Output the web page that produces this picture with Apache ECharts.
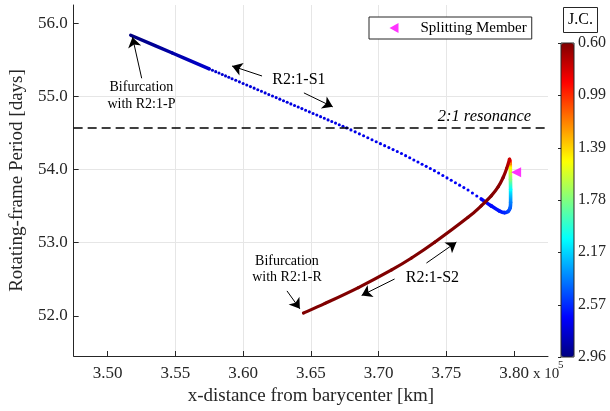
<!DOCTYPE html>
<html><head><meta charset="utf-8">
<script src="https://cdn.jsdelivr.net/npm/echarts@6/dist/echarts.min.js"></script>
<style>html,body{margin:0;padding:0;background:#fff}#c{width:610px;height:411px}</style>
</head><body><div id="c"></div>
<script>
const FONT = "'Liberation Serif','Times New Roman',serif";
// rows: [x-distance (x1e5 km), rotating-frame period (days), Jacobi constant]
const s1Start = [[3.5171,55.837,2.96],[3.5478,55.593,2.87],[3.5750,55.377,2.78]];
const s1Dots = [[3.5750,55.377,2.78],[3.5919,55.242,2.76],[3.6434,54.833,2.73],[3.6765,54.569,2.72],[3.7169,54.219,2.70],[3.7412,53.985,2.69],[3.7660,53.720,2.68],[3.7757,53.597,2.67]];
const hookPts = [[3.7757,53.597,2.67],[3.7831,53.503,2.65],[3.7890,53.435,2.62],[3.7929,53.411,2.58],[3.7956,53.429,2.52],[3.7971,53.476,2.45],[3.7974,53.551,2.37],[3.7974,53.728,2.075],[3.7973,53.864,1.78],[3.7972,54.027,1.485],[3.7971,54.082,1.19],[3.7968,54.122,0.90],[3.7966,54.140,0.78]];
const s2Pts = [[3.7966,54.140,0.78],[3.7945,54.014,0.68],[3.7919,53.891,0.63],[3.7882,53.762,0.62],[3.7831,53.639,0.61],[3.7757,53.503,0.61],[3.7660,53.346,0.61],[3.7414,53.005,0.60],[3.7243,52.790,0.60],[3.7096,52.627,0.60],[3.6851,52.386,0.60],[3.6605,52.169,0.60],[3.6446,52.037,0.60]];
const splitMember = [[3.8015,53.963]];
const jcTicks = [0.60,0.99,1.39,1.78,2.17,2.57,2.96];
const jcRange = [0.60, 2.96];
const xRange = [3.475, 3.825];
const yRange = [51.45, 56.25];
const resonance = 54.571;
const arrows = [
  [[3.5252,55.248],[3.5184,55.810]],
  [[3.6140,55.279],[3.5919,55.415]],
  [[3.6449,55.048],[3.6662,54.857]],
  [[3.6324,52.340],[3.6419,52.095]],
  [[3.7353,52.721],[3.7574,53.007]],
  [[3.7118,52.503],[3.6875,52.279]]
];
const notes = [
  {text:'Bifurcation\nwith R2:1-P', at:[3.525,55.007], size:14},
  {text:'R2:1-S1', at:[3.6412,55.224], size:16},
  {text:'Bifurcation\nwith R2:1-R', at:[3.6324,52.633], size:14},
  {text:'R2:1-S2', at:[3.7397,52.517], size:16},
  {text:'2:1 resonance', at:[3.8125,54.721], size:16.5, italic:true, align:'right'}
];
const jetColors = ['#800000','#ff0000','#ff8000','#ffff00','#80ff80','#00ffff','#0080ff','#0000ff','#000080'];

function solidRender(width){
  return function(params, api){
    const i = params.dataIndexInside, n = params.dataInsideLength;
    if (i >= n - 1) return null;
    const P = k => { k = Math.max(0, Math.min(n-1, k)); return api.coord([api.value(0,k), api.value(1,k)]); };
    const p0 = P(i-1), p1 = P(i), p2 = P(i+1), p3 = P(i+2);
    const c1 = api.visual('color', i), c2 = api.visual('color', i+1);
    return {type:'bezierCurve', silent:true,
      shape:{x1:p1[0],y1:p1[1],x2:p2[0],y2:p2[1],
        cpx1:p1[0]+(p2[0]-p0[0])/6, cpy1:p1[1]+(p2[1]-p0[1])/6,
        cpx2:p2[0]-(p3[0]-p1[0])/6, cpy2:p2[1]-(p3[1]-p1[1])/6},
      style:{fill:null, stroke:new echarts.graphic.LinearGradient(p1[0],p1[1],p2[0],p2[1],[{offset:0,color:c1},{offset:1,color:c2}],true), lineWidth:width, lineCap:'round'}};
  };
}
function dotRender(r, gap0, gap1){
  return function(params, api){
    const i = params.dataIndexInside, n = params.dataInsideLength;
    if (i >= n - 1) return null;
    const p0 = api.coord([api.value(0,i), api.value(1,i)]);
    const p1 = api.coord([api.value(0,i+1), api.value(1,i+1)]);
    const c0 = api.visual('color', i), c1 = api.visual('color', i+1);
    const L = Math.hypot(p1[0]-p0[0], p1[1]-p0[1]);
    const gap = gap0 + (gap1-gap0) * i / Math.max(1, n-2);
    const m = Math.max(1, Math.round(L/gap));
    const ch = [];
    for (let k = 0; k < m; k++) {
      const t = k/m;
      ch.push({type:'circle', shape:{cx:p0[0]+(p1[0]-p0[0])*t, cy:p0[1]+(p1[1]-p0[1])*t, r:r},
        style:{fill: echarts.color.lerp(t,[c0,c1])}});
    }
    return {type:'group', silent:true, children:ch};
  };
}

const chart = echarts.init(document.getElementById('c'), null, {renderer:'canvas'});
const axisCol = '#262626';
chart.setOption({
  animation:false,
  backgroundColor:'#fff',
  grid:[
    {left:70, right:62, top:5, bottom:54, containLabel:false},
    {left:561, top:43, width:13, height:314, show:true, borderColor:axisCol, borderWidth:1, backgroundColor:'transparent', z:6}
  ],
  xAxis:[
    {type:'value', gridIndex:0, min:xRange[0], max:xRange[1], splitNumber:7,
     name:'x-distance from barycenter [km]', nameLocation:'middle', nameGap:31,
     nameTextStyle:{fontFamily:FONT, fontSize:19, color:axisCol},
     axisLine:{show:true, onZero:false, lineStyle:{color:axisCol, width:1}},
     axisTick:{show:true, inside:true, length:5, lineStyle:{color:axisCol}, customValues:[3.50,3.55,3.60,3.65,3.70,3.75,3.80]},
     axisLabel:{fontFamily:FONT, fontSize:17, color:axisCol, margin:9, showMinLabel:false, showMaxLabel:false, formatter:v=>v.toFixed(2)},
     splitLine:{show:true, showMinLine:false, showMaxLine:false, lineStyle:{color:'#e6e6e6', width:1}}},
    {type:'value', gridIndex:1, min:0, max:1, show:false}
  ],
  yAxis:[
    {type:'value', gridIndex:0, min:yRange[0], max:yRange[1], splitNumber:5,
     name:'Rotating-frame Period [days]', nameLocation:'middle', nameGap:41,
     nameTextStyle:{fontFamily:FONT, fontSize:19, color:axisCol},
     axisLine:{show:true, onZero:false, lineStyle:{color:axisCol, width:1}},
     axisTick:{show:true, inside:true, length:5, lineStyle:{color:axisCol}, customValues:[52,53,54,55,56]},
     axisLabel:{fontFamily:FONT, fontSize:17, color:axisCol, margin:6, showMinLabel:false, showMaxLabel:false, formatter:v=>v.toFixed(1)},
     splitLine:{show:true, showMinLine:false, showMaxLine:false, lineStyle:{color:'#e6e6e6', width:1}}},
    {type:'value', gridIndex:1, min:jcRange[0], max:jcRange[1], inverse:true, position:'right',
     axisLine:{show:false},
     axisTick:{show:true, inside:true, length:3, lineStyle:{color:axisCol}, customValues:jcTicks},
     axisLabel:{fontFamily:FONT, fontSize:16, color:axisCol, margin:4, customValues:jcTicks, formatter:v=>v.toFixed(2)},
     splitLine:{show:false}}
  ],
  visualMap:{type:'continuous', min:jcRange[0], max:jcRange[1], dimension:2, seriesIndex:[0,1,2,3],
    inverse:true, calculable:false, show:true, left:561, top:43, itemWidth:13, itemHeight:314, padding:0,
    inRange:{color:jetColors}, hoverLink:false},
  legend:{data:[{name:'Splitting Member', icon:'path://M10,0 L0,5.5 L10,11 Z'}], left:369, top:17,
    itemWidth:9, itemHeight:10, padding:[3.5,5,3.5,20.5], symbolKeepAspect:true,
    borderColor:axisCol, borderWidth:1, backgroundColor:'#fff', selectedMode:false,
    textStyle:{fontFamily:FONT, fontSize:15, color:'#000', padding:[0,0,0,17]}},
  series:[
    {type:'custom', name:'S1a', renderItem:solidRender(3.4), data:s1Start, clip:false, z:2},
    {type:'custom', name:'S1b', renderItem:dotRender(1.55, 3.6, 5.4), data:s1Dots, clip:false, z:2},
    {type:'custom', name:'hook', renderItem:solidRender(3.6), data:hookPts, clip:false, z:3},
    {type:'custom', name:'S2', renderItem:solidRender(3.2), data:s2Pts, clip:false, z:4},
    {type:'scatter', name:'Splitting Member', data:splitMember, symbol:'triangle', symbolRotate:90, symbolSize:10,
     itemStyle:{color:'#ff00ff'}, z:10, silent:true,
     markLine:{silent:true, symbol:['none','arrow'], symbolSize:10, animation:false,
       label:{show:false}, emphasis:{disabled:true},
       lineStyle:{color:'#000', width:1, type:'solid'},
       data:[[{coord:[xRange[0],resonance], symbol:'none', lineStyle:{type:[9,5], width:1.5, color:'#000'}},
              {coord:[xRange[1],resonance], symbol:'none'}]]
         .concat(arrows.map(a=>[{coord:a[0], symbol:'none'},{coord:a[1], symbol:'arrow', symbolSize:10}]))}}
  ]
});

const g = [];
notes.forEach(nt => {
  const p = chart.convertToPixel({gridIndex:0}, nt.at);
  g.push({type:'text', x:p[0], y:p[1], z:20, silent:true,
    style:{text:nt.text, fontFamily:FONT, fontSize:nt.size, fontStyle:nt.italic?'italic':'normal',
      fill:'#000', align:nt.align||'center', verticalAlign:'middle', lineHeight:16.5}});
});
g.push({type:'text', x:533, y:374, z:20, silent:true, style:{text:'x 10', fontFamily:FONT, fontSize:15, fill:axisCol, align:'left', verticalAlign:'middle'}});
g.push({type:'text', x:558, y:365, z:20, silent:true, style:{text:'5', fontFamily:FONT, fontSize:11, fill:axisCol, align:'left', verticalAlign:'middle'}});
g.push({type:'rect', z:20, silent:true, shape:{x:563.5, y:7.5, width:34, height:25}, style:{fill:'#fff', stroke:axisCol, lineWidth:1}});
g.push({type:'text', x:580.5, y:20, z:21, silent:true, style:{text:'J.C.', fontFamily:FONT, fontSize:16, fill:'#000', align:'center', verticalAlign:'middle'}});
chart.setOption({graphic:g});
</script></body></html>
